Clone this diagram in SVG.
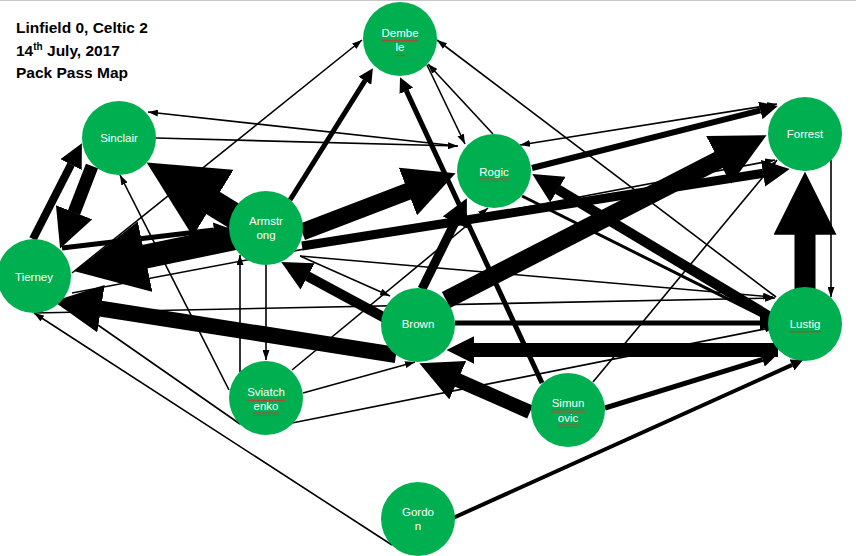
<svg xmlns="http://www.w3.org/2000/svg" width="856" height="556" viewBox="0 0 856 556">
<style>
.n circle{fill:#00b050}
.n text{fill:#fff;font-family:"Liberation Sans",Arial,sans-serif;font-size:11.5px;text-anchor:middle}
.e path{stroke:#000;fill:none}
.t{stroke-width:1.6;marker-end:url(#ta)}
.k{marker-end:url(#h)}
.k2{marker-end:url(#h2)}
.title{font-family:"Liberation Sans",Arial,sans-serif;font-weight:bold;font-size:15.5px;fill:#000}
.sq{fill:url(#sq)}
</style>
<defs>
<marker id="h" viewBox="0 0 3 3" refX="0.03" refY="1.5" markerWidth="3" markerHeight="3" orient="auto"><path d="M0,0L3,1.5L0,3z" fill="#000"/></marker>
<marker id="h2" viewBox="0 0 2 2" refX="0.03" refY="1" markerWidth="2" markerHeight="2" orient="auto"><path d="M0,0L2,1L0,2z" fill="#000"/></marker>
<marker id="ta" viewBox="0 0 10 7" refX="10" refY="3.5" markerWidth="10" markerHeight="7" markerUnits="userSpaceOnUse" orient="auto"><path d="M0,0L10,3.5L0,7z" fill="#000"/></marker>
<marker id="tb" viewBox="0 0 10 7" refX="10" refY="3.5" markerWidth="10" markerHeight="7" markerUnits="userSpaceOnUse" orient="auto-start-reverse"><path d="M0,0L10,3.5L0,7z" fill="#000"/></marker>
<pattern id="sq" width="4" height="3" patternUnits="userSpaceOnUse"><path d="M0,2.5L1,0.8L2,2.5L3,0.8L4,2.5" stroke="#e02a2a" stroke-width="0.8" fill="none"/></pattern>
</defs>
<rect width="856" height="556" fill="#fff"/>
<line x1="0" y1="0.5" x2="856" y2="0.5" stroke="#c8c8c8" stroke-width="1"/>
<g id="title" class="title">
<text x="16" y="33">Linfield 0, Celtic 2</text>
<text x="16" y="55.5">14<tspan font-size="10" dy="-6">th</tspan><tspan dy="6"> July, 2017</tspan></text>
<text x="16" y="78">Pack Pass Map</text>
</g>
<g id="connectors" class="e">
<path class="t" d="M392,545L34,313"/>
<path class="t" d="M34,313L775,298"/>
<path class="t" d="M72,273L362,40"/>
<path class="t" d="M72,293L775,160"/>
<path class="t" d="M427,65L465,144"/>
<path class="t" d="M493,134L428,64"/>
<path class="t" d="M776,297L437,40"/>
<path class="t" d="M457,146L148,112"/>
<path class="t" d="M156,138L458,146"/>
<path class="t" d="M229,390L120,175"/>
<path class="t" d="M777,104L520,145" style="marker-start:url(#tb)"/>
<path class="t" d="M522,196L770,320" style="stroke-width:3"/>
<path class="t" d="M831,160L831,297"/>
<path class="t" d="M292,423L775,327"/>
<path class="t" d="M300,256L773,297"/>
<path class="t" d="M593,382L777,160"/>
<path class="t" d="M292,370L488,208"/>
<path class="t" d="M303,393L415,362"/>
<path class="t" d="M240,424L62,300"/>
<path class="t" d="M266,265L266,360"/>
<path class="t" d="M240,372L240,255"/>
<path class="t" d="M300,256L390,296"/>
<path class="k" d="M62,248L214,230" style="stroke-width:5"/>
<path class="k" d="M290,200L365,80.7" style="stroke-width:5"/>
<path class="k" d="M542,383L406.3,90.6" style="stroke-width:5"/>
<path class="k" d="M532,168L760.5,110.4" style="stroke-width:6"/>
<path class="k" d="M455,323L760,323" style="stroke-width:5"/>
<path class="k" d="M605,408L762.7,359.4" style="stroke-width:5"/>
<path class="k" d="M453,518L792.1,364.9" style="stroke-width:4"/>
<path class="k" d="M33,239L71.1,164.4" style="stroke-width:8"/>
<path class="k" d="M302,246L763.3,173.2" style="stroke-width:9"/>
<path class="k" d="M422,289L455,222.2" style="stroke-width:9"/>
<path class="k" d="M772,318L557.7,189.4" style="stroke-width:10"/>
<path class="k" d="M385,318L307.4,276.2" style="stroke-width:10"/>
<path class="k" d="M92,166L74,212.6" style="stroke-width:13"/>
<path class="k" d="M530,412L457.4,380" style="stroke-width:14"/>
<path class="k2" d="M778,350L474,350" style="stroke-width:14"/>
<path class="k" d="M396,355L100.5,308.6" style="stroke-width:16"/>
<path class="k" d="M302,232L408.4,191.3" style="stroke-width:17"/>
<path class="k" d="M446,300L719,159.7" style="stroke-width:18"/>
<path class="k" d="M805,290L805,234" style="stroke-width:21"/>
<path class="k" d="M237.4,237.5L144.4,256.8" style="stroke-width:24"/>
<path class="k" d="M239.8,219.4L212.5,202.7" style="stroke-width:26"/>
</g>
<g id="node-dembele" class="n"><circle cx="400" cy="39" r="37"/><text x="400" y="37">Dembe</text><text x="400" y="51">le</text><rect class="sq" x="382" y="39.5" width="36" height="3"/><rect class="sq" x="395" y="53.5" width="10" height="3"/></g>
<g id="node-sinclair" class="n"><circle cx="119" cy="138" r="37"/><text x="119" y="142">Sinclair</text></g>
<g id="node-armstrong" class="n"><circle cx="266" cy="228" r="37"/><text x="266" y="225">Armstr</text><text x="266" y="239">ong</text></g>
<g id="node-tierney" class="n"><circle cx="34" cy="276" r="37"/><text x="34" y="281">Tierney</text></g>
<g id="node-rogic" class="n"><circle cx="494" cy="171" r="37"/><text x="494" y="176">Rogic</text><rect class="sq" x="479" y="178.5" width="30" height="3"/></g>
<g id="node-forrest" class="n"><circle cx="805" cy="134" r="37"/><text x="805" y="138">Forrest</text></g>
<g id="node-brown" class="n"><circle cx="418" cy="325" r="37"/><text x="418" y="328">Brown</text></g>
<g id="node-lustig" class="n"><circle cx="805" cy="324" r="37"/><text x="805" y="328">Lustig</text><rect class="sq" x="789" y="330.5" width="32" height="3"/></g>
<g id="node-sviatchenko" class="n"><circle cx="266" cy="398" r="37"/><text x="266" y="396">Sviatch</text><text x="266" y="410">enko</text><rect class="sq" x="247" y="398.5" width="38" height="3"/><rect class="sq" x="253" y="412.5" width="26" height="3"/></g>
<g id="node-simunovic" class="n"><circle cx="568" cy="410" r="37"/><text x="568" y="407">Simun</text><text x="568" y="422">ovic</text><rect class="sq" x="551" y="409.5" width="34" height="3"/><rect class="sq" x="557" y="424.5" width="22" height="3"/></g>
<g id="node-gordon" class="n"><circle cx="418" cy="519" r="37"/><text x="418" y="516">Gordo</text><text x="418" y="530">n</text></g>
</svg>
